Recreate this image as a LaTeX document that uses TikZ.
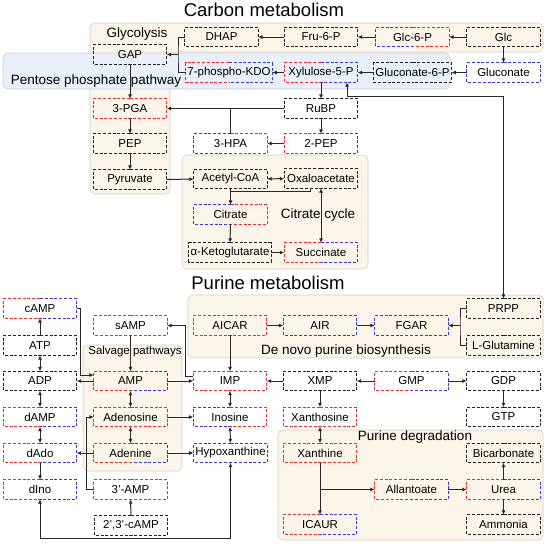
\documentclass[tikz,border=0pt]{standalone}
\usepackage{fontspec}
\setmainfont{Liberation Sans}
\usetikzlibrary{arrows.meta}
\definecolor{K}{RGB}{35,35,35}
\definecolor{R}{RGB}{235,45,45}
\definecolor{B}{RGB}{55,55,225}
\definecolor{beige}{RGB}{251,246,233}
\definecolor{beigeb}{RGB}{212,206,192}
\definecolor{pent}{RGB}{233,240,250}
\definecolor{pentb}{RGB}{198,206,222}
\definecolor{lc}{RGB}{40,40,40}
\tikzset{
  box/.style={minimum width=73pt, minimum height=19pt, inner xsep=1.5pt, inner ysep=0pt, font=\fontsize{11.5}{13}\selectfont},
  dsh/.style={line width=1pt, dash pattern=on 3pt off 1.8pt},
  bgbox/.style={fill=beige, draw=beigeb, line width=0.6pt, rounded corners=5pt},
  pentbox/.style={fill=pent, draw=pentb, line width=0.6pt, rounded corners=5pt},
  ln/.style={draw=lc, line width=1pt},
  arr/.style={ln, -{Latex[length=4.5pt,width=4pt]}},
  dbl/.style={ln, {Latex[length=4.5pt,width=4pt]}-{Latex[length=4.5pt,width=4pt]}},
  sect/.style={font=\fontsize{13.5}{15}\selectfont, inner sep=0pt},
  ttl/.style={font=\fontsize{18.5}{20}\selectfont, inner sep=0pt}
}
\begin{document}
\begin{tikzpicture}[x=1pt,y=-1pt]
\useasboundingbox (0,0) rectangle (550,544);
% backgrounds
\draw[bgbox] (90,23) -- (543,23) -- (543,52) -- (170,52) -- (170,194) -- (90,194) -- cycle;
\draw[pentbox] (3,53) rectangle (450,89);
\draw[bgbox] (182,155) rectangle (368,269);
\draw[bgbox] (83,345) rectangle (182,471);
\draw[bgbox] (188,295) rectangle (543,358);
\draw[bgbox] (278,430) rectangle (543,540);
% titles and section labels
\node[ttl] (tc) at (264,10) {Carbon metabolism};
\node[ttl] (tp) at (268,283) {Purine metabolism};
\node[sect] (lg) at (137,34) {Glycolysis};
\node[sect] (lpp) at (96,81) {Pentose phosphate pathway};
\node[sect] (lcc) at (318,215) {Citrate cycle};
\node[font=\fontsize{11.5}{13}\selectfont, inner sep=0pt] (lsv) at (135,352) {Salvage pathways};
\node[sect] (ldn) at (346,351) {De novo purine biosynthesis};
\node[sect] (lpd) at (415,437) {Purine degradation};
% carbon nodes
\node[box] (DHAP) at (221.5,37) {DHAP};
\node[box] (Fru) at (321,37) {Fru-6-P};
\node[box] (Glc6P) at (412.5,37) {Glc-6-P};
\node[box] (Glc) at (503.5,37) {Glc};
\node[box] (GAP) at (130,54.5) {GAP};
\node[box] (KDO) at (229,72.5) {7-phospho-KDO};
\node[box] (Xyl) at (321,72.5) {Xylulose-5-P};
\node[box] (Gcn6P) at (412.5,72.5) {Gluconate-6-P};
\node[box] (Gcn) at (503.5,72.5) {Gluconate};
\node[box] (PGA) at (130,108.5) {3-PGA};
\node[box] (RuBP) at (321,108.5) {RuBP};
\node[box] (PEP) at (130,143.5) {PEP};
\node[box] (HPA) at (230.5,143.5) {3-HPA};
\node[box] (PEPb) at (321,143.5) {2-PEP};
\node[box] (Pyr) at (130,179.5) {Pyruvate};
\node[box] (Acc) at (230.5,179) {Acetyl-CoA};
\node[box] (Oxa) at (321,178.5) {Oxaloacetate};
\node[box] (Cit) at (230.5,214.5) {Citrate};
\node[box] (aKG) at (230,252.5) {α-Ketoglutarate};
\node[box] (Suc) at (321,252.5) {Succinate};
% purine nodes
\node[box] (cAMP) at (40,308.5) {cAMP};
\node[box] (sAMP) at (130.5,325.5) {sAMP};
\node[box] (AICAR) at (230,325.5) {AICAR};
\node[box] (AIR) at (320,325.5) {AIR};
\node[box] (FGAR) at (411.5,325.5) {FGAR};
\node[box] (PRPP) at (503.5,308.5) {PRPP};
\node[box] (ATP) at (40,345.5) {ATP};
\node[box] (Gln) at (503.5,345.5) {L-Glutamine};
\node[box] (ADP) at (40,381) {ADP};
\node[box] (AMP) at (130.5,381) {AMP};
\node[box] (IMP) at (230,381) {IMP};
\node[box] (XMP) at (320,381) {XMP};
\node[box] (GMP) at (411.5,381) {GMP};
\node[box] (GDP) at (503.5,381) {GDP};
\node[box] (dAMP) at (40,417) {dAMP};
\node[box] (Ado) at (130.5,417) {Adenosine};
\node[box] (Ino) at (230,417) {Inosine};
\node[box] (Xao) at (320,417) {Xanthosine};
\node[box] (GTP) at (503.5,417) {GTP};
\node[box] (dAdo) at (40,453) {dAdo};
\node[box] (Ade) at (130.5,453) {Adenine};
\node[box] (Hyp) at (230.5,453) {Hypoxanthine};
\node[box] (Xan) at (320,453) {Xanthine};
\node[box] (Bic) at (503.5,453) {Bicarbonate};
\node[box] (dIno) at (40,489.5) {dIno};
\node[box] (AMPt) at (130.5,489.5) {3’-AMP};
\node[box] (Allan) at (411.5,489.5) {Allantoate};
\node[box] (Urea) at (503.5,489.5) {Urea};
\node[box] (cAMPc) at (131,525.5) {2’,3’-cAMP};
\node[box] (ICAUR) at (320,524.5) {ICAUR};
\node[box] (Amm) at (503.5,524.5) {Ammonia};
% borders
\foreach \n/\l/\r in {DHAP/K/K, Fru/K/K, Glc6P/B/R, Glc/K/K, GAP/K/K, KDO/R/B, Xyl/R/B, Gcn6P/K/K, Gcn/B/B, PGA/R/R, RuBP/K/K, PEP/K/K, HPA/B/R, PEPb/R/B, Pyr/K/K, Acc/K/K, Oxa/K/K, Cit/B/R, aKG/K/K, Suc/R/B, cAMP/R/B, sAMP/R/R, AICAR/R/R, AIR/B/B, FGAR/B/B, PRPP/K/K, ATP/K/K, Gln/K/K, ADP/K/K, AMP/R/B, IMP/R/R, XMP/K/K, GMP/R/B, GDP/K/K, dAMP/R/B, Ado/R/R, Ino/B/R, Xao/R/R, GTP/K/K, dAdo/R/B, Ade/R/B, Hyp/B/B, Xan/R/R, Bic/K/K, dIno/R/B, AMPt/R/R, Allan/R/B, Urea/R/B, cAMPc/K/K, ICAUR/R/B, Amm/K/K}{
  \draw[dsh,draw=\l] (\n.north) -- (\n.north west) -- (\n.south west) -- (\n.south);
  \draw[dsh,draw=\r] (\n.north) -- (\n.north east) -- (\n.south east) -- (\n.south);
}
% coordinates
\coordinate (bx) at (178,54.5);
\coordinate (j1) at (230.5,191);
\coordinate (t1) at (347,96);
\coordinate (t2) at (503.5,96);
\coordinate (px) at (460,325.5);
\coordinate (s1) at (185,376.5);
\coordinate (s2) at (185,325.5);
\coordinate (c1) at (80,308.5);
\coordinate (c2) at (80,375);
\coordinate (a1) at (86,489.5);
\coordinate (a2) at (86,417);
\coordinate (d1) at (40,538);
\coordinate (d2) at (230.5,538);
% carbon connectors
\draw[arr] (Glc) -- (Glc6P);
\draw[arr] (Glc6P) -- (Fru);
\draw[arr] (Fru) -- (DHAP);
\draw[arr] (Glc) -- (Gcn);
\draw[arr] (Gcn) -- (Gcn6P);
\draw[arr] (Gcn6P) -- (Xyl);
\draw[arr] (Xyl) -- (KDO);
\draw[ln] (DHAP.west) -| (bx) |- (KDO.west);
\draw[arr] (bx) -- (GAP.east);
\draw[arr] (GAP) -- (PGA);
\draw[arr] (PGA) -- (PEP);
\draw[arr] (PEP) -- (Pyr);
\draw[arr] (Pyr) -- (Acc);
\draw[arr] (Xyl) -- (RuBP);
\draw[arr] (RuBP) -- (PGA);
\draw[ln] (HPA.north) -- (HPA.north |- RuBP.west);
\draw[arr] (RuBP) -- (PEPb);
\draw[arr] (PEPb) -- (HPA);
\draw[dbl] (Acc) -- (Oxa);
\draw[arr] (Acc) -- (Cit);
\draw[ln] ([xshift=-11pt]Oxa.south) |- (j1);
\draw[arr] (Cit) -- (aKG);
\draw[arr] (aKG) -- (Suc);
\draw[dbl] (Suc) -- (Oxa);
\draw[dbl] ([xshift=26pt]Xyl.south) -- (t1) -- (t2) -- (PRPP.north);
% purine connectors
\draw[arr] (IMP.west |- s1) -- (s1) -- (s2) -- (sAMP.east);
\draw[arr] (AMP) -- (IMP);
\draw[arr] (AICAR) -- (IMP);
\draw[arr] (AICAR) -- (AIR);
\draw[arr] (AIR) -- (FGAR);
\draw[ln] (PRPP.west) -| (px) |- (Gln.west);
\draw[arr] (px) -- (FGAR.east);
\draw[arr] (cAMP.east) -- (c1) -- (c2) -- (AMP.west |- c2);
\draw[arr] (AMP) -- (ADP);
\draw[arr] (ATP) -- (cAMP);
\draw[dbl] (ATP) -- (ADP);
\draw[dbl] (ADP) -- (dAMP);
\draw[dbl] (dAMP) -- (dAdo);
\draw[arr] (dAdo) -- (dIno);
\draw[arr] (Ade) -- (dAdo);
\draw[dbl] (AMP) -- (Ado);
\draw[dbl] (Ado) -- (Ade);
\draw[arr] (AMPt.west) -- (a1) -- (a2) -- (Ado.west);
\draw[arr] (cAMPc) -- (AMPt);
\draw[arr] (Ado) -- (Ino);
\draw[arr] (Ade) -- (Hyp);
\draw[dbl] (IMP) -- (Ino);
\draw[dbl] (Ino) -- (Hyp);
\draw[dbl] (dIno.south) -- (d1) -- (d2) -- (Hyp.south);
\draw[arr] (sAMP) -- (AMP);
\draw[arr] (XMP) -- (IMP);
\draw[arr] (GMP) -- (XMP);
\draw[arr] (GMP) -- (GDP);
\draw[arr] (GDP) -- (GTP);
\draw[arr] (XMP) -- (Xao);
\draw[dbl] (Xao) -- (Xan);
\draw[arr] (Xan) -- (ICAUR);
\draw[arr] (Xan.south |- Allan.west) -- (Allan.west);
\draw[arr] (Allan) -- (Urea);
\draw[arr] (Urea) -- (Bic);
\draw[arr] (Urea) -- (Amm);
\end{tikzpicture}
\end{document}
